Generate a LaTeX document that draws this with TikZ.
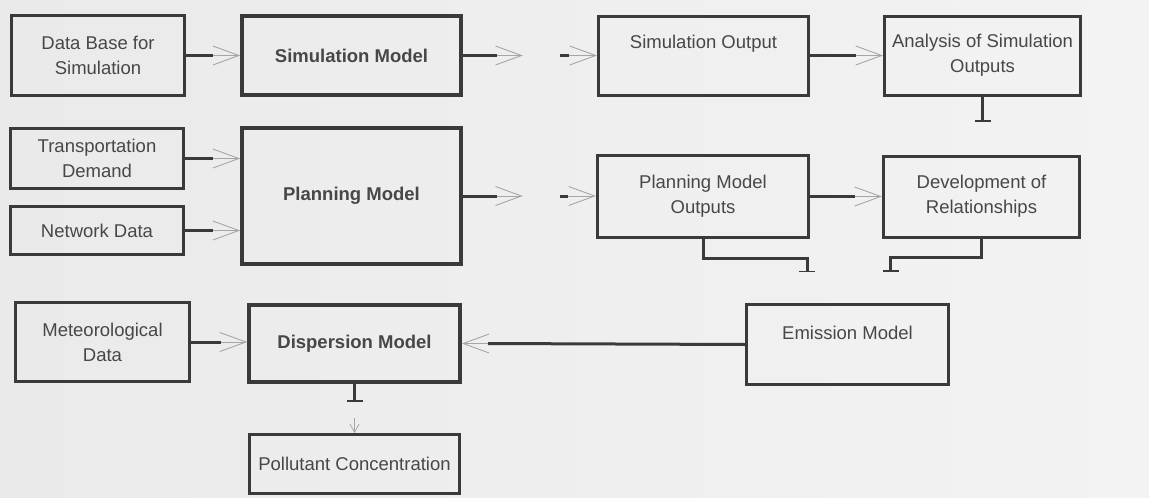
\documentclass[tikz,border=0pt]{standalone}
\usepackage{fontspec}
\setmainfont{Liberation Sans}
\usetikzlibrary{arrows.meta}
\definecolor{bgl}{HTML}{EAEAEA}
\definecolor{bgr}{HTML}{F3F3F3}
\definecolor{edge}{HTML}{3A3A3A}
\definecolor{txt}{HTML}{474747}
\definecolor{faint}{HTML}{A6A6A6}
\newcommand{\boxfont}{\fontsize{18.5}{25}\selectfont}
\begin{document}
\begin{tikzpicture}[x=1pt,y=-1pt,
  box/.style={draw=edge, line width=3pt, text=txt, align=center,
    inner sep=0pt, font=\boxfont},
  boldbox/.style={box, line width=3.6pt, font=\boxfont\bfseries},
  link/.style={draw=edge, line width=3pt},
  vhead/.style={draw=faint, line width=0.9pt,
    -{Straight Barb[length=26pt,width=19pt,line width=0.9pt]}},
  smallv/.style={draw=faint, line width=0.8pt,
    -{Straight Barb[length=8pt,width=9pt,line width=0.8pt]}},
  stub/.style={draw=edge, line width=3pt, line join=miter,
    -{Bar[width=16pt,line width=1.4pt]}},
]
\shade[left color=bgl, right color=bgr] (0,0) rectangle (1149,498);
\useasboundingbox (0,0) rectangle (1149,498);

% left column
\node[box, minimum width=173pt, minimum height=80pt] (db) at (98,55.5) {Data Base for\\Simulation};
\node[box, minimum width=173pt, minimum height=60pt] (td) at (97,158.5) {Transportation\\Demand};
\node[box, minimum width=173pt, minimum height=48pt] (nd) at (97,230.5) {Network Data};
\node[box, minimum width=174pt, minimum height=79pt] (met) at (102.5,342) {Meteorological\\Data};

% models
\node[boldbox, minimum width=219pt, minimum height=79pt] (sim) at (351.5,55.5) {Simulation Model};
\node[boldbox, minimum width=219pt, minimum height=136pt] (pm) at (351.5,196) {Planning Model};
\node[boldbox, minimum width=211pt, minimum height=77pt] (disp) at (354.5,343.5) {Dispersion Model};
\node[box, minimum width=210pt, minimum height=59pt] (pol) at (354.5,464) {Pollutant Concentration};

% right part
\node[box, minimum width=210pt, minimum height=79pt,
  label={[text=txt, font=\boxfont, yshift=12pt]center:Simulation Output}] (so) at (703.5,55.5) {};
\node[box, minimum width=196pt, minimum height=79pt] (an) at (982.5,55.5) {Analysis of Simulation\\Outputs};
\node[box, minimum width=211pt, minimum height=82pt] (pmo) at (703,196.5) {Planning Model\\Outputs};
\node[box, minimum width=196pt, minimum height=81pt] (dev) at (981.5,196.5) {Development of\\Relationships};
\node[box, minimum width=202pt, minimum height=80pt,
  label={[text=txt, font=\boxfont, yshift=12pt]center:Emission Model}] (em) at (847.5,344.5) {};

% connectors: inputs
\draw[link] (db.east) -- ++(27,0) coordinate (dbA);
\draw[vhead] (dbA) -- (sim.west |- dbA);
\draw[link] (td.east) -- ++(28,0) coordinate (tdA);
\draw[vhead] (tdA) -- (pm.west |- tdA);
\draw[link] (nd.east) -- ++(28,0) coordinate (ndA);
\draw[vhead] (ndA) -- (pm.west |- ndA);
\draw[link] (met.east) -- ++(30,0) coordinate (metA);
\draw[vhead] (metA) -- (disp.west |- metA);

% simulation model -> simulation output
\draw[link] (sim.east) -- ++(34,0) coordinate (simA);
\draw[vhead] (simA) -- ++(26,0);
\coordinate (simB) at (560,55.5);
\draw[link] (simB) -- ++(9,0) coordinate (simC);
\draw[vhead] (simC) -- (so.west |- simC);

% planning model -> planning model outputs
\draw[link] (pm.east) -- ++(34,0) coordinate (pmA);
\draw[vhead] (pmA) -- ++(26,0);
\coordinate (pmB) at (560,196);
\draw[link] (pmB) -- ++(8,0) coordinate (pmC);
\draw[vhead] (pmC) -- (pmo.west |- pmC);

% outputs -> analysis / development
\draw[link] (so.east) -- ++(46,0) coordinate (soA);
\draw[vhead] (soA) -- (an.west |- soA);
\draw[link] (pmo.east) -- ++(45,0) coordinate (pmoA);
\draw[vhead] (pmoA) -- (dev.west |- pmoA);

% emission -> dispersion
\draw[link] (em.west) -- (488,343.5) coordinate (emA);
\draw[vhead] (emA) -- (disp.east |- emA);

% stubs
\draw[stub] (an.south) -- ++(0,25);
\draw[stub] (pmo.south) -- ++(0,19) -| ++(104,14);
\draw[stub] (dev.south) -- ++(0,19) -| ++(-91,14);
\draw[stub] (disp.south) -- ++(0,18);
\coordinate (dispA) at (354.5,418);
\draw[smallv] (dispA) -- (pol.north);
\end{tikzpicture}
\end{document}
